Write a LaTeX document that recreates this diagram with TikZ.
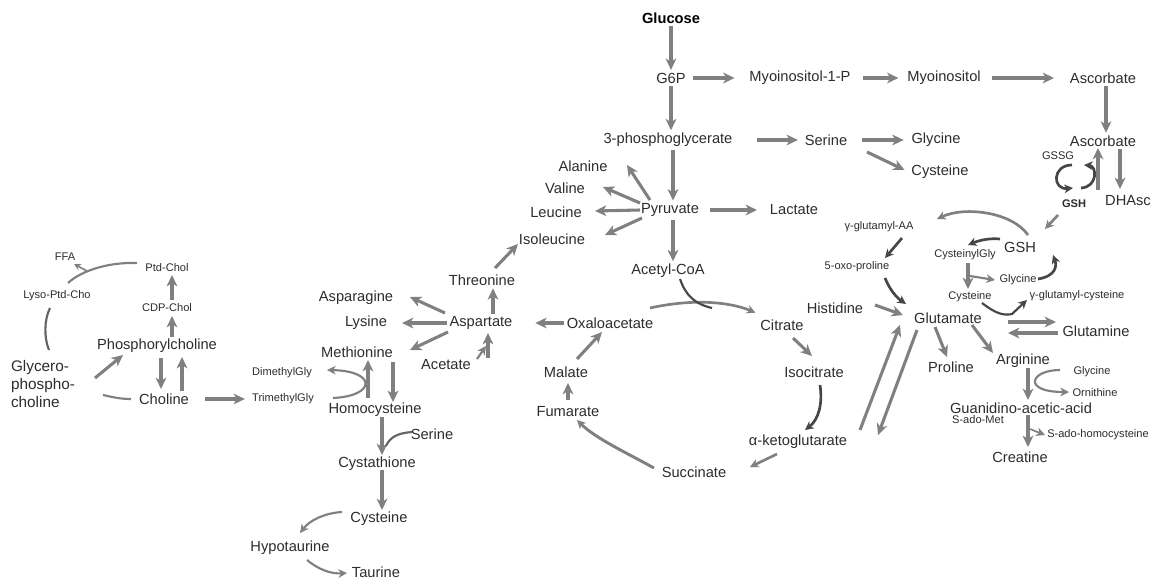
\documentclass[tikz,border=0pt]{standalone}
\usepackage{fontspec}
\setmainfont{Liberation Sans}
\usetikzlibrary{arrows.meta}
\definecolor{agray}{RGB}{128,128,128}
\definecolor{dgray}{RGB}{70,70,70}
\definecolor{mgray}{RGB}{100,100,100}
\definecolor{txt}{RGB}{45,45,45}
\begin{document}
\begin{tikzpicture}[x=0.75pt,y=-0.75pt,
  m/.style={font=\fontsize{11}{13}\selectfont, text=txt, inner sep=2pt},
  sm/.style={font=\fontsize{8.3}{10}\selectfont, text=txt, inner sep=1.5pt},
  arr/.style={draw=agray, line width=2.3pt, -{Stealth[length=8.5pt,width=8pt,inset=2.5pt]}},
  carr/.style={draw=agray, line width=1.6pt, -{Stealth[length=6.5pt,width=6.5pt,inset=2pt]}},
  darr/.style={carr, draw=dgray},
  ln/.style={draw=agray, line width=1.6pt},
  dln/.style={draw=dgray, line width=1.6pt}]
\fill[white] (0,0) rectangle (1157,582);
\useasboundingbox (0,0) rectangle (1157,582);

% ---------- nodes (main) ----------
\node[m, font=\fontsize{11}{13}\selectfont\bfseries, text=black] (Glucose) at (671,18) {Glucose};
\node[m] (G6P) at (671,78) {G6P};
\node[m] (Myo1P) at (800,78) {Myoinositol-1-P};
\node[m] (Myo) at (944,78) {Myoinositol};
\node[m] (AscA) at (1103,78) {Ascorbate};
\node[m] (PG) at (668,140) {3-phosphoglycerate};
\node[m] (SerA) at (826,140) {Serine};
\node[m] (GlyA) at (936,140) {Glycine};
\node[m] (CysA) at (940,172) {Cysteine};
\node[m] (AscB) at (1103,141) {Ascorbate};
\node[m] (DHAsc) at (1128,201) {DHAsc};
\node[m] (Ala) at (583,166) {Alanine};
\node[m] (Val) at (565,188) {Valine};
\node[m] (Leu) at (556,212) {Leucine};
\node[m] (Ile) at (552,239) {Isoleucine};
\node[m] (Pyr) at (670,210) {Pyruvate};
\node[m] (Lac) at (794,210) {Lactate};
\node[m] (AcCoA) at (668,271) {Acetyl-CoA};
\node[m] (Thr) at (482,280) {Threonine};
\node[m] (Asn) at (356,298) {Asparagine};
\node[m] (Lys) at (366,323) {Lysine};
\node[m] (Asp) at (481,323) {Aspartate};
\node[m] (OAA) at (610,323) {Oxaloacetate};
\node[m] (Cit) at (782,325) {Citrate};
\node[m] (His) at (835,308) {Histidine};
\node[m] (Glu) at (948,318) {Glutamate};
\node[m] (Gln) at (1096,331) {Glutamine};
\node[m] (Pro) at (951,367) {Proline};
\node[m] (Arg) at (1023,361) {Arginine};
\node[m] (Guan) at (1021,408) {Guanidino-acetic-acid};
\node[m] (Crea) at (1020,457) {Creatine};
\node[m] (GSHb) at (1020,247) {GSH};
\node[m] (Met) at (357,352) {Methionine};
\node[m] (Ace) at (446,365) {Acetate};
\node[m] (Mal) at (566,372) {Malate};
\node[m] (Icit) at (814,372) {Isocitrate};
\node[m] (Fum) at (568,412) {Fumarate};
\node[m] (aKG) at (798,442) {α-ketoglutarate};
\node[m] (Suc) at (694,472) {Succinate};
\node[m] (Hcy) at (375,410) {Homocysteine};
\node[m] (SerB) at (432,434) {Serine};
\node[m] (Cysta) at (377,464) {Cystathione};
\node[m] (CysB) at (379,519) {Cysteine};
\node[m] (Hyp) at (290,548) {Hypotaurine};
\node[m] (Tau) at (376,572) {Taurine};
\node[m] (Pc) at (157,346) {Phosphorylcholine};
\node[m] (Cho) at (164,399) {Choline};
\node[m, align=left, font=\fontsize{11.5}{13.2}\selectfont] (GPC) at (43,384) {Glycero-\\phospho-\\choline};

% ---------- nodes (small) ----------
\node[sm] (FFA) at (65,257) {FFA};
\node[sm] (Lyso) at (57,296) {Lyso-Ptd-Cho};
\node[sm] (Ptd) at (167,268) {Ptd-Chol};
\node[sm] (CDP) at (167,308) {CDP-Chol};
\node[sm] (DMG) at (282,373) {DimethylGly};
\node[sm] (TMG) at (283,399) {TrimethylGly};
\node[sm] (gAA) at (879,227) {γ-glutamyl-AA};
\node[sm] (oxo) at (857,267) {5-oxo-proline};
\node[sm] (CG) at (965,255) {CysteinylGly};
\node[sm] (GlyS) at (1018,280) {Glycine};
\node[sm] (CysS) at (970,297) {Cysteine};
\node[sm] (gGC) at (1077,296) {γ-glutamyl-cysteine};
\node[sm] (GlyR) at (1092,372) {Glycine};
\node[sm] (Orn) at (1095,393) {Ornithine};
\node[sm] (SAM) at (978,420) {S-ado-Met};
\node[sm] (SAH) at (1098,435) {S-ado-homocysteine};
\node[sm] (GSSG) at (1058,156) {GSSG};
\node[sm, font=\fontsize{8.3}{10}\selectfont\bfseries] (GSHs) at (1074,204) {GSH};

% ---------- free-end coordinates ----------
\coordinate (jA) at (712,308);
\coordinate (jS) at (386,446);
\coordinate (ffaj) at (87,271);
\coordinate (cgj) at (970,276);
\coordinate (kink) at (1012,314);
\coordinate (sj) at (1030,429);

% ---------- top row ----------
\draw[arr] (Glucose.south) -- (G6P.north);
\draw[arr] ([shift={(4,0)}]G6P.east) -- ([shift={(-12,0)}]Myo1P.west);
\draw[arr] ([shift={(10,0)}]Myo1P.east) -- ([shift={(-6,0)}]Myo.west);
\draw[arr] ([shift={(8,0)}]Myo.east) -- ([shift={(-13,0)}]AscA.west);
\draw[arr] ([shift={(3,0)}]AscA.south) -- ([shift={(3,0)}]AscB.north);
\draw[arr] (G6P.south) -- ([shift={(3,0)}]PG.north);
\draw[arr] ([shift={(22,0)}]PG.east) -- ([shift={(-4,0)}]SerA.west);
\draw[arr] ([shift={(12,0)}]SerA.east) -- ([shift={(-5,0)}]GlyA.west);
\draw[arr] ([shift={(41,12)}]SerA.center) -- ([shift={(-4,-2)}]CysA.west);

% ---------- pyruvate ----------
\draw[arr] ([shift={(5,0)}]PG.south) -- ([shift={(3,0)}]Pyr.north);
\draw[arr] ([shift={(-20,-10)}]Pyr.center) -- ([shift={(44,-1)}]Ala.center);
\draw[arr] ([shift={(-30,-7)}]Pyr.center) -- ([shift={(38,-1)}]Val.center);
\draw[arr] ([shift={(-30,0)}]Pyr.center) -- ([shift={(39,-1)}]Leu.center);
\draw[arr] ([shift={(-28,8)}]Pyr.center) -- ([shift={(53,-4)}]Ile.center);
\draw[arr] ([shift={(8,0)}]Pyr.east) -- ([shift={(-10,0)}]Lac.west);
\draw[arr] ([shift={(3,0)}]Pyr.south) -- ([shift={(5,0)}]AcCoA.north);

% ---------- TCA ----------
\draw[carr, line width=2pt] ([shift={(40,-15)}]OAA.center) .. controls (700,297) and (735,304) .. ([shift={(-2,-4)}]Cit.north west);
\draw[dln] ([shift={(12,8)}]AcCoA.center) .. controls (686,296) and (695,304) .. (jA);
\draw[arr] ([shift={(11,13)}]Cit.center) -- ([shift={(-2,-16)}]Icit.center);
\draw[darr, line width=2pt] ([shift={(6,13)}]Icit.center) .. controls (823,405) and (818,420) .. ([shift={(7,-12)}]aKG.center);
\draw[carr, line width=2pt] ([shift={(-21,12)}]aKG.center) -- ([shift={(56,-5)}]Suc.center);
\draw[carr, line width=2.2pt] ([shift={(-40,-4)}]Suc.center) .. controls (625,452) and (595,438) .. ([shift={(9,8)}]Fum.center);
\draw[arr] ([shift={(0,-12)}]Fum.center) -- ([shift={(2,11)}]Mal.center);
\draw[arr] ([shift={(11,-13)}]Mal.center) -- ([shift={(-8,9)}]OAA.center);
\draw[arr] (OAA.west) -- ([shift={(20,0)}]Asp.east);

% ---------- aspartate ----------
\draw[arr] ([shift={(12,0)}]Asp.north) -- ([shift={(11,0)}]Thr.south);
\draw[arr] ([shift={(13,-12)}]Thr.center) -- ([shift={(-34,5)}]Ile.center);
\draw[arr] ([shift={(-36,-10)}]Asp.center) -- ([shift={(54,-1)}]Asn.center);
\draw[arr] (Asp.west) -- ([shift={(36,0)}]Lys.center);
\draw[arr] ([shift={(-33,9)}]Asp.center) -- ([shift={(53,-2)}]Met.center);
\draw[arr] ([shift={(42,-7)}]Ace.center) -- ([shift={(7,10)}]Asp.center);
\draw[carr] ([shift={(31,-6)}]Ace.center) -- ([shift={(40,-19)}]Ace.center);

% ---------- methionine ----------
\draw[arr] ([shift={(36,10)}]Met.center) -- ([shift={(18,-8)}]Hcy.center);
\draw[arr] ([shift={(-7,-12)}]Hcy.center) -- ([shift={(11,8)}]Met.center);
\draw[carr] ([shift={(50,-1)}]TMG.center) .. controls (376,396) and (377,371) .. ([shift={(45,-3)}]DMG.center);
\draw[arr] ([shift={(13,0)}]Cho.east) -- ([shift={(-5,0)}]TMG.west);
\draw[arr] ([shift={(7,7)}]Hcy.center) -- ([shift={(5,-9)}]Cysta.center);
\draw[ln, draw=mgray] ([shift={(-20,-2)}]SerB.center) .. controls (398,433) and (390,437) .. (jS);
\draw[arr] ([shift={(5,6)}]Cysta.center) -- ([shift={(3,-9)}]CysB.center);
\draw[carr] ([shift={(-37,-7)}]CysB.center) .. controls (325,513) and (310,520) .. ([shift={(10,-15)}]Hyp.center);
\draw[carr] ([shift={(17,12)}]Hyp.center) .. controls (318,569) and (330,574) .. ([shift={(-29,1)}]Tau.center);

% ---------- choline ----------
\draw[arr] ([shift={(15,-9)}]Pc.center) -- ([shift={(5,8)}]CDP.center);
\draw[arr] ([shift={(5,-8)}]CDP.center) -- ([shift={(5,7)}]Ptd.center);
\draw[arr] ([shift={(4,12)}]Pc.center) -- ([shift={(-3,-10)}]Cho.center);
\draw[arr] ([shift={(18,-8)}]Cho.center) -- ([shift={(25,11)}]Pc.center);
\draw[arr] ([shift={(52,-6)}]GPC.center) -- ([shift={(-34,9)}]Pc.center);
\draw[ln] ([shift={(60,11)}]GPC.center) .. controls (112,397) and (120,399) .. ([shift={(-33,0)}]Cho.center);
\draw[ln, draw=mgray] ([shift={(-7,12)}]Lyso.center) .. controls (44,320) and (44,338) .. ([shift={(6,-34)}]GPC.center);
\draw[ln] ([shift={(-30,-5)}]Ptd.center) .. controls (110,262) and (82,270) .. ([shift={(11,-13)}]Lyso.center);
\draw[carr, line width=1.2pt, -{Stealth[length=5pt,width=5pt,inset=1.5pt]}] (ffaj) -- ([shift={(9,7)}]FFA.center);

% ---------- glutamate / GSH ----------
\draw[arr] ([shift={(40,-3)}]His.center) -- ([shift={(-45,-3)}]Glu.center);
\draw[darr, line width=2pt] ([shift={(28,11)}]oxo.center) .. controls (890,290) and (896,297) .. ([shift={(-42,-14)}]Glu.center);
\draw[darr, line width=2pt] ([shift={(23,11)}]gAA.center) -- ([shift={(28,-9)}]oxo.center);
\draw[carr, line width=2pt] ([shift={(8,-12)}]GSHb.center) .. controls (1012,212) and (965,206) .. ([shift={(58,-8)}]gAA.center);
\draw[carr, line width=2pt] ([shift={(-16,11)}]GSHs.center) -- ([shift={(25,-18)}]GSHb.center);
\draw[darr, line width=2pt] ([shift={(-20,-8)}]GSHb.center) .. controls (990,238) and (980,240) .. ([shift={(3,-10)}]CG.center);
\draw[arr] ([shift={(3,8)}]CG.center) -- ([shift={(-2,-8)}]CysS.center);
\draw[carr] (cgj) -- ([shift={(-23,0)}]GlyS.center);
\draw[darr] ([shift={(12,6)}]CysS.center) .. controls (995,313) and (1003,316) .. (kink) -- ([shift={(-50,4)}]gGC.center);
\draw[darr, line width=2pt] ([shift={(20,-1)}]GlyS.center) .. controls (1056,276) and (1057,266) .. ([shift={(33,8)}]GSHb.center);
\draw[arr] ([shift={(60,4)}]Glu.center) -- ([shift={(-40,-9)}]Gln.center);
\draw[arr] ([shift={(-38,2)}]Gln.center) -- ([shift={(60,15)}]Glu.center);
\draw[arr] ([shift={(-13,9)}]Glu.center) -- ([shift={(-4,-10)}]Pro.center);
\draw[arr] ([shift={(24,7)}]Glu.center) -- ([shift={(-30,-8)}]Arg.center);
\draw[arr] ([shift={(62,-12)}]aKG.center) -- ([shift={(-48,7)}]Glu.center);
\draw[arr] ([shift={(-31,12)}]Glu.center) -- ([shift={(80,-7)}]aKG.center);
\draw[arr] ([shift={(5,7)}]Arg.center) -- ([shift={(7,-8)}]Guan.center);
\draw[carr] ([shift={(-32,-2)}]GlyR.center) .. controls (1030,370) and (1022,392) .. ([shift={(-26,-1)}]Orn.center);
\draw[arr] ([shift={(7,7)}]Guan.center) -- ([shift={(8,-10)}]Crea.center);
\draw[carr, line width=1.2pt] (sj) -- ([shift={(-53,0)}]SAH.center);

% ---------- ascorbate / GSSG ----------
\draw[arr] ([shift={(17,8)}]AscB.center) -- ([shift={(-8,-12)}]DHAsc.center);
\draw[arr] ([shift={(24,-14)}]GSHs.center) -- ([shift={(-5,7)}]AscB.center);
\draw[darr, line width=2pt] ([shift={(14,9)}]GSSG.center) .. controls (1052,165) and (1052,190) .. ([shift={(-1,-16)}]GSHs.center);
\draw[darr, line width=2pt] ([shift={(7,-16)}]GSHs.center) .. controls (1098,187) and (1097,166) .. ([shift={(26,9)}]GSSG.center);
\end{tikzpicture}
\end{document}
